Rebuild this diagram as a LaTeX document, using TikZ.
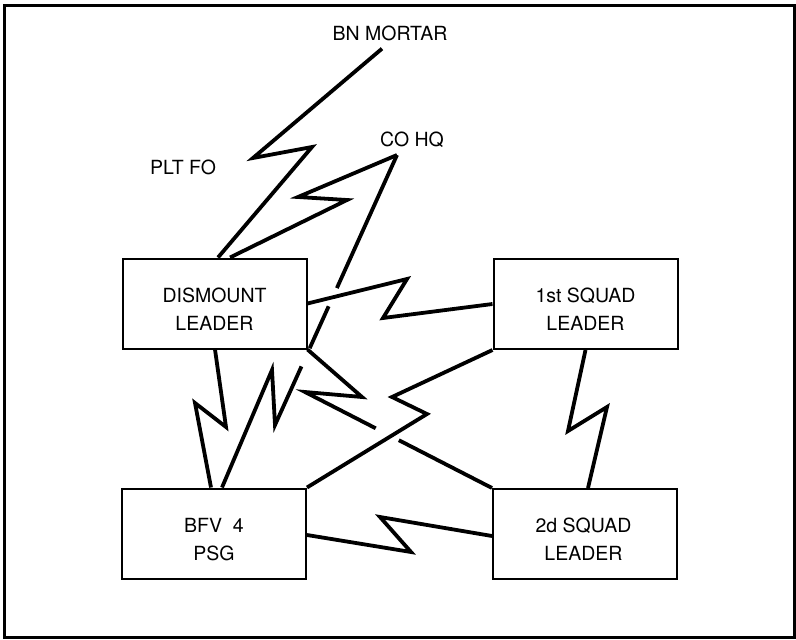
\documentclass[tikz,border=0pt]{standalone}
\usepackage{fontspec}
\setmainfont{TeX Gyre Heros}
\usetikzlibrary{calc}
\begin{document}
\begin{tikzpicture}[x=1pt,y=-1pt,
  box/.style={draw, line width=2pt, minimum width=184pt, minimum height=90pt, inner sep=0pt},
  txt/.style={align=center, inner sep=0pt, font=\fontsize{19.5}{28}\selectfont},
  link/.style={line width=3.8pt, miter limit=10},
]
\useasboundingbox (0,0) rectangle (796,640);
\draw[line width=3pt] (4,5) rectangle (794,637);

% boxes
\node[box] (dis) at (214.5,303.5) {};
\node[txt] at ($(dis.center)+(0,5.5)$) {DISMOUNT\\LEADER};
\node[box] (sq1) at (585.5,304) {};
\node[txt] at ($(sq1.center)+(0,5.5)$) {1st SQUAD\\LEADER};
\node[box] (bfv) at (214,533.5) {};
\node[txt] at ($(bfv.center)+(0,6)$) {BFV\ \ 4\\PSG};
\node[box] (sq2) at (585,534) {};
\node[txt] at ($(sq2.center)+(-1.5,5.5)$) {2d SQUAD\\LEADER};

% outside labels
\node[txt] (mortar) at (390,33) {BN MORTAR};
\node[txt] (cohq) at (412,140) {CO HQ};
\node[txt] (pltfo) at (183,167) {PLT FO};
\coordinate (mt) at ($(mortar.south)+(-8,8)$);
\coordinate (ct) at ($(cohq.south)+(-15,7)$);

% connectors
\draw[link] (mt) -- (253,158) -- (312,147) -- ($(dis.north)+(3.5,0)$);
\draw[link] (ct) -- (298,197) -- (347,200) -- ($(dis.north)+(15.5,0)$);
\draw[link, dash pattern=on 146pt off 20pt on 46pt off 20pt on 600pt]
  (ct) -- (275,425) -- (272,370) -- ($(bfv.north)+(8,0)$);
\draw[link] (dis.east) -- (407,279) -- (383,318) -- (sq1.west);
\draw[link] (sq1.south west) -- (392,397) -- (427,414) -- (bfv.north east);
\draw[link, dash pattern=on 209pt off 26pt on 400pt]
  (dis.south east) -- (362,397) -- (305,392) -- (sq2.north west);
\draw[link] ($(dis.south)+(0.5,0)$) -- (226,427) -- (195,403) -- ($(bfv.north)+(-3,0)$);
\draw[link] (sq1.south) -- (568,431) -- (607,407) -- ($(sq2.north)+(3,0)$);
\draw[link] ($(sq2.west)+(0,2)$) -- (380,517) -- (411,552) -- ($(bfv.east)+(0,1.5)$);
\end{tikzpicture}
\end{document}
